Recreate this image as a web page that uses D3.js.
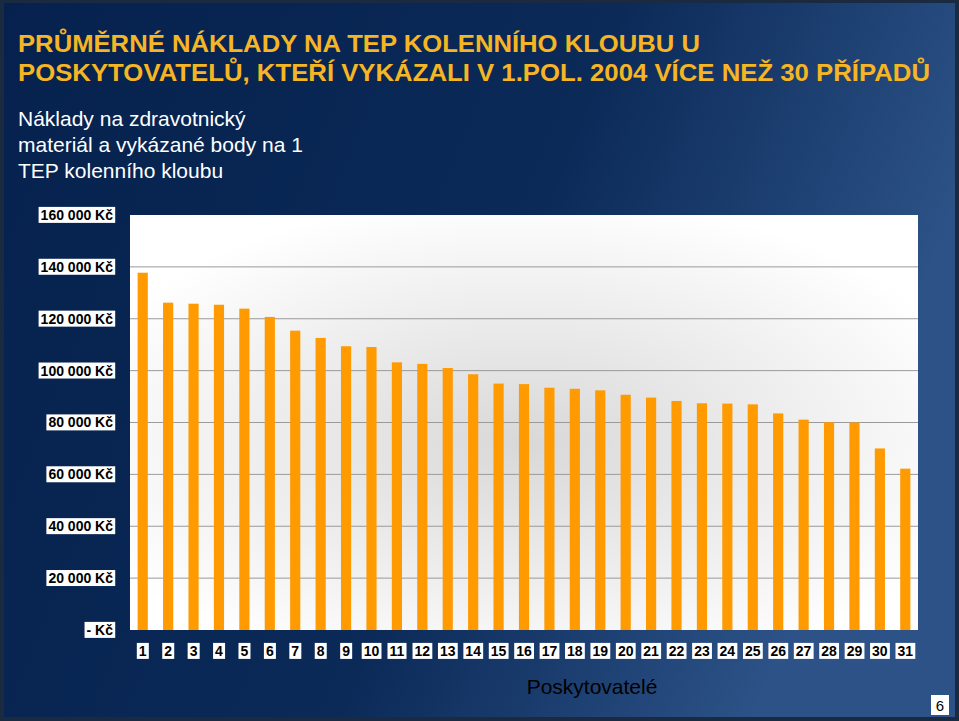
<!DOCTYPE html>
<html><head><meta charset="utf-8">
<script src="https://cdn.jsdelivr.net/npm/d3@7/dist/d3.min.js"></script>
<style>body{margin:0;background:#fff}svg{display:block}</style>
</head><body><svg id="c" width="959" height="721"></svg>
<script>
const categories = d3.range(1, 32).map(String);
const values = [137750,126200,125800,125400,123900,120700,115400,112600,109400,109100,103200,102600,101000,98600,95000,94800,93400,93000,92400,90700,89600,88300,87400,87300,87000,83500,81100,80100,80000,70000,62200];
const yTicks = [0,20000,40000,60000,80000,100000,120000,140000,160000];
const titleLines = ["PRŮMĚRNÉ NÁKLADY NA TEP KOLENNÍHO KLOUBU U","POSKYTOVATELŮ, KTEŘÍ VYKÁZALI V 1.POL. 2004 VÍCE NEŽ 30 PŘÍPADŮ"];
const subLines = ["Náklady na zdravotnický","materiál a vykázané body na 1","TEP kolenního kloubu"];
const xTitle = "Poskytovatelé";

const svg = d3.select("#c");
const defs = svg.append("defs");
const bg = defs.append("linearGradient").attr("id","bg").attr("x1","0").attr("x2","1").attr("y1","0").attr("y2","0.3");
bg.append("stop").attr("offset","0").attr("stop-color","#06214d");
bg.append("stop").attr("offset","0.6").attr("stop-color","#0b2a58");
bg.append("stop").attr("offset","1").attr("stop-color","#2c5287");
const pg = defs.append("radialGradient").attr("id","pg").attr("cx","0.5").attr("cy","0.55").attr("r","0.6");
pg.append("stop").attr("offset","0").attr("stop-color","#d8d8d8");
pg.append("stop").attr("offset","1").attr("stop-color","#ffffff");

svg.append("rect").attr("width",959).attr("height",721).attr("fill","#1a2a40");
svg.append("rect").attr("x",4).attr("y",3).attr("width",951).attr("height",714).attr("fill","url(#bg)");

const f = "'Liberation Sans', Arial, sans-serif";
svg.append("g").selectAll("text").data(titleLines).join("text")
  .attr("x",18).attr("y",(d,i)=>52+i*29).attr("fill","#f6b523")
  .attr("font-family",f).attr("font-weight","bold").attr("font-size",23).attr("textLength",(d,i)=>i?912:682).attr("lengthAdjust","spacingAndGlyphs").text(d=>d);
svg.append("g").selectAll("text").data(subLines).join("text")
  .attr("x",18).attr("y",(d,i)=>126+i*26).attr("fill","#fff")
  .attr("font-family",f).attr("font-size",21).text(d=>d);

const m = {l:130,r:918,t:215,b:630};
const x = d3.scaleBand().domain(categories).range([m.l,m.r]).paddingInner(0.6).paddingOuter(0.3);
const y = d3.scaleLinear().domain([0,160000]).range([m.b,m.t]);

svg.append("rect").attr("x",m.l).attr("y",m.t).attr("width",m.r-m.l).attr("height",m.b-m.t).attr("fill","url(#pg)");
svg.append("g").selectAll("line").data(yTicks.slice(1,-1)).join("line")
  .attr("x1",m.l).attr("x2",m.r).attr("y1",d=>y(d)).attr("y2",d=>y(d)).attr("stroke","#9a9a9a").attr("stroke-width",1);

svg.append("g").selectAll("rect").data(values).join("rect")
  .attr("x",(d,i)=>x(categories[i])).attr("width",x.bandwidth())
  .attr("y",d=>y(d)).attr("height",d=>y(0)-y(d)).attr("fill","#ff9a00");

const fmt = v => v===0 ? "- Kč" : d3.format(",")(v).replace(/,/g," ")+" Kč";
function label(g, txt, xr, yc, anchor){
  const t = g.append("text").attr("font-family",f).attr("font-weight","bold").attr("font-size",14)
    .attr("text-anchor",anchor).attr("x",xr).attr("y",yc).attr("dy","0.35em").attr("fill","#000").text(txt);
  const b = t.node().getBBox();
  g.insert("rect","text").attr("x",b.x-2).attr("y",b.y).attr("width",b.width+4).attr("height",b.height).attr("fill","#fff");
  t.raise();
}
const yg = svg.append("g");
yTicks.forEach(v => label(yg.append("g"), fmt(v), 113, y(v), "end"));
const xg = svg.append("g");
categories.forEach(c => label(xg.append("g"), c, x(c)+x.bandwidth()/2, 651, "middle"));

svg.append("text").attr("x",592).attr("y",694).attr("text-anchor","middle").attr("fill","#000")
  .attr("font-family",f).attr("font-size",21).text(xTitle);
svg.append("rect").attr("x",931).attr("y",695).attr("width",18).attr("height",20).attr("fill","#fff");
svg.append("text").attr("x",940).attr("y",711).attr("text-anchor","middle").attr("font-family",f).attr("font-size",15).text("6");
</script></body></html>
